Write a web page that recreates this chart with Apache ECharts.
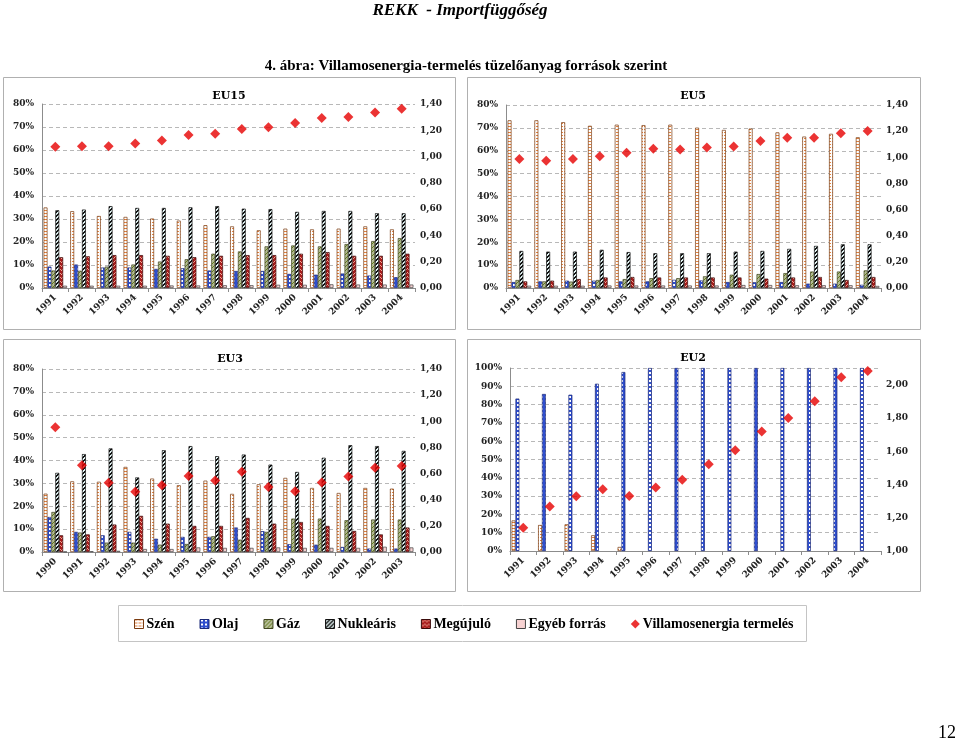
<!DOCTYPE html>
<html><head><meta charset="utf-8">
<script src="https://cdn.jsdelivr.net/npm/echarts@6/dist/echarts.min.js"></script>
<style>html,body{margin:0;padding:0;background:#fff}#c{width:960px;height:742px}</style>
</head><body><div id="c"></div>
<script>
// ---------- DATA ----------
const years15 = ['1991','1992','1993','1994','1995','1996','1997','1998','1999','2000','2001','2002','2003','2004'];
const years3  = ['1990','1991','1992','1993','1994','1995','1996','1997','1998','1999','2000','2001','2002','2003'];
const seriesNames = ['Szén','Olaj','Gáz','Nukleáris','Megújuló','Egyéb forrás','Villamosenergia termelés'];

// EU15 (%; production on right axis)
const eu15Szen   = [35.0,33.4,31.3,30.9,30.2,29.3,27.3,26.8,25.1,25.8,25.5,25.8,26.8,25.5];
const eu15Olaj   = [9.3,10.2,8.9,8.9,8.3,8.6,7.6,7.4,7.4,6.1,5.8,6.3,5.4,4.7];
const eu15Gaz    = [7.6,7.5,9.3,10.2,11.5,12.5,14.9,15.9,18.1,18.5,18.1,19.1,20.4,21.7];
const eu15Nuk    = [33.8,34.1,35.6,34.8,34.8,35.1,35.6,34.5,34.3,33.1,33.5,33.5,32.5,32.5];
const eu15Meg    = [13.4,13.8,14.3,14.3,14.0,13.4,14.0,14.3,14.3,14.9,15.6,14.0,14.0,14.9];
const eu15Egyeb  = [1.0,1.0,1.0,1.0,1.1,1.1,1.2,1.2,1.4,1.4,1.6,1.5,1.5,1.5];
const eu15Term   = [1.074,1.079,1.079,1.099,1.122,1.165,1.173,1.209,1.224,1.255,1.293,1.301,1.336,1.364];

// EU5
const eu5Szen  = [73.3,73.3,72.5,70.9,71.4,71.2,71.4,70.1,69.1,69.7,68.0,66.2,67.4,65.9];
const eu5Olaj  = [2.6,2.9,3.2,3.2,2.9,2.9,3.6,3.3,2.6,2.5,2.6,1.9,1.9,1.4];
const eu5Gaz   = [3.5,2.9,2.8,3.5,3.9,4.3,4.3,5.1,5.8,6.1,6.5,7.2,7.2,7.7];
const eu5Nuk   = [16.2,15.9,15.9,16.7,15.7,15.2,15.2,15.2,15.9,16.2,17.1,18.4,19.1,19.1];
const eu5Meg   = [2.9,3.2,3.9,4.6,4.8,4.6,4.6,4.6,4.6,4.1,4.6,4.8,3.5,4.8];
const eu5Egyeb = [1.0,1.0,1.0,1.1,1.1,1.1,1.1,1.1,1.3,1.3,1.2,1.2,1.2,0.9];
const eu5Term  = [0.987,0.974,0.987,1.007,1.035,1.065,1.060,1.075,1.083,1.124,1.149,1.149,1.184,1.202];

// EU3
const eu3Szen  = [25.5,30.9,30.7,37.2,32.1,29.2,31.2,25.4,29.6,32.4,28.0,25.8,28.0,27.7];
const eu3Olaj  = [15.3,8.8,7.3,8.8,5.8,6.6,6.6,10.7,9.1,3.4,3.2,2.2,1.5,1.5];
const eu3Gaz   = [17.5,8.5,4.1,4.1,3.2,3.5,6.9,5.4,8.8,14.6,14.6,13.9,14.2,14.2];
const eu3Nuk   = [34.6,42.8,45.3,32.6,44.5,46.3,41.9,42.6,38.2,35.0,41.2,46.7,46.3,44.2];
const eu3Meg   = [7.3,7.7,12.0,15.8,12.4,11.4,11.4,14.9,12.4,13.1,11.4,9.2,7.7,10.7];
const eu3Egyeb = [0.1,0.3,0.5,1.3,1.3,2.0,1.8,1.8,2.0,1.8,1.8,1.8,2.3,2.0];
const eu3Term  = [0.955,0.664,0.529,0.460,0.511,0.582,0.547,0.613,0.498,0.465,0.531,0.577,0.644,0.657];

// EU2
const eu2Szen  = [16.7,14.2,14.6,8.6,2.2,0,0,0,0,0,0,0,0,0];
const eu2Olaj  = [83.3,85.8,85.4,91.4,97.8,100,100,100,100,100,100,100,100,100];
const eu2Gaz   = [0,0,0,0,0,0,0,0,0,0,0,0,0,0];
const eu2Nuk   = [0,0,0,0,0,0,0,0,0,0,0,0,0,0];
const eu2Meg   = [0,0,0,0,0,0,0,0,0,0,0,0,0,0];
const eu2Egyeb = [0,0,0,0,0,0,0,0,0,0,0,0,0,0];
const eu2Term  = [1.140,1.267,1.329,1.371,1.331,1.381,1.429,1.521,1.605,1.719,1.800,1.900,2.044,2.082];

// ---------- STYLES ----------
function pat(w,h,draw){const c=document.createElement('canvas');c.width=w;c.height=h;const g=c.getContext('2d');draw(g);return {image:c,repeat:'repeat'};}
const fills = [
  pat(4,3,g=>{g.fillStyle='#fff';g.fillRect(0,0,4,3);g.fillStyle='#e3823f';g.fillRect(0,0,3,1);}),
  pat(4,4,g=>{g.fillStyle='#2f4fcf';g.fillRect(0,0,4,4);g.fillStyle='#fff';g.fillRect(1,0,2,2);}),
  pat(4,4,g=>{g.fillStyle='#b3bb94';g.fillRect(0,0,4,4);g.fillStyle='#647a1e';g.fillRect(0,3,1,1);g.fillRect(1,2,1,1);g.fillRect(2,1,1,1);g.fillRect(3,0,1,1);}),
  pat(4,4,g=>{g.fillStyle='#e2f3f3';g.fillRect(0,0,4,4);g.fillStyle='#111';g.fillRect(0,3,2,1);g.fillRect(1,2,2,1);g.fillRect(2,1,2,1);g.fillRect(3,0,1,1);g.fillRect(0,0,1,1);}),
  pat(4,4,g=>{g.fillStyle='#a81c1c';g.fillRect(0,0,4,4);g.fillStyle='#f2a898';g.fillRect(0,1,1,1);g.fillRect(1,2,1,1);g.fillRect(2,1,1,1);g.fillRect(3,0,1,1);}),
  '#f7d2d2'
];
const borders = ['#7a3b10','#1c2a78','#3f4420','#111111','#3a0a0a','#444444'];
const diamondColor = '#e60000';
const FONT = 'DejaVu Serif';
const lblStyle = {fontFamily:FONT,fontSize:9,fontWeight:'bold',color:'#222'};

const panels = [
  {cats:years15, bars:[eu15Szen,eu15Olaj,eu15Gaz,eu15Nuk,eu15Meg,eu15Egyeb], term:eu15Term, grid:{left:42,top:104,width:373,height:184}, lmax:80, rmin:0, rmax:1.4},
  {cats:years15, bars:[eu5Szen,eu5Olaj,eu5Gaz,eu5Nuk,eu5Meg,eu5Egyeb], term:eu5Term, grid:{left:506,top:105,width:375,height:183}, lmax:80, rmin:0, rmax:1.4},
  {cats:years3, bars:[eu3Szen,eu3Olaj,eu3Gaz,eu3Nuk,eu3Meg,eu3Egyeb], term:eu3Term, grid:{left:42,top:369,width:373,height:183}, lmax:80, rmin:0, rmax:1.4},
  {cats:years15, bars:[eu2Szen,eu2Olaj,eu2Gaz,eu2Nuk,eu2Meg,eu2Egyeb], term:eu2Term, grid:{left:510,top:368,width:371,height:183}, lmax:100, rmin:1, rmax:2.1}
];

const grid=[],xAxis=[],yAxis=[],series=[];
panels.forEach((p,i)=>{
  grid.push(p.grid);
  xAxis.push({type:'category',gridIndex:i,data:p.cats,boundaryGap:true,
    axisLine:{lineStyle:{color:'#8c8c8c'}},axisTick:{show:true,length:4,lineStyle:{color:'#8c8c8c'}},
    axisLabel:Object.assign({rotate:45,margin:8,interval:0},lblStyle)});
  yAxis.push({type:'value',gridIndex:i,min:0,max:p.lmax,interval:10,
    axisLine:{show:true,lineStyle:{color:'#8c8c8c'}},axisTick:{show:false},
    splitLine:{lineStyle:{color:'#b8b8b8',type:[4,3]}},
    axisLabel:Object.assign({formatter:'{value}%',margin:8},lblStyle)});
  yAxis.push({type:'value',gridIndex:i,position:'right',min:p.rmin,max:p.rmax,interval:0.2,
    axisLine:{show:false},axisTick:{show:false},splitLine:{show:false},
    axisLabel:Object.assign({margin:5,formatter:v=>{const k=(v-p.rmin)/0.2;return Math.abs(k-Math.round(k))>0.01?'':v.toFixed(2).replace('.',',');}},lblStyle)});
  p.bars.forEach((arr,j)=>{
    series.push({type:'bar',name:seriesNames[j],xAxisIndex:i,yAxisIndex:2*i,
      data:arr.map(v=>v===0?'-':v),barGap:'0%',barCategoryGap:'12%',
      itemStyle:{color:fills[j],borderColor:borders[j],borderWidth:0.7}});
  });
  series.push({type:'scatter',name:seriesNames[6],xAxisIndex:i,yAxisIndex:2*i+1,data:p.term,
    symbol:'diamond',symbolSize:[10,10],itemStyle:{color:diamondColor}});
});

function txt(x,y,t,font,align){return {type:'text',x:x,y:y,silent:true,style:{text:t,font:font,fill:'#000',align:align||'center',verticalAlign:'middle',textAlign:align||'center',textVerticalAlign:'middle'}};}
function box(x,y,w,h,c){return {type:'rect',silent:true,shape:{x:x,y:y,width:w,height:h},style:{fill:'none',stroke:c||'#b0b0b0',lineWidth:1}};}

const graphic = [
  box(3.5,77.5,452,252), box(467.5,77.5,453,252), box(3.5,339.5,452,252), box(467.5,339.5,453,252),
  box(118.5,605.5,688,36,'#c4c4c4'),
  txt(460,11,'REKK  - Importfüggőség','bold italic 17px "Liberation Serif"'),
  txt(466,66,'4. ábra: Villamosenergia-termelés tüzelőanyag források szerint','bold 15px "Liberation Serif"'),
  txt(947,733,'12','18px "Liberation Serif"'),
  txt(229,96,'EU15','bold 11px "DejaVu Serif"'),
  txt(693,96,'EU5','bold 11px "DejaVu Serif"'),
  txt(230,359,'EU3','bold 11px "DejaVu Serif"'),
  txt(693,358,'EU2','bold 11px "DejaVu Serif"')
];

const legendData = seriesNames.map((n,j)=> j<6
  ? {name:n,icon:'rect',itemStyle:{color:fills[j],borderColor:borders[j],borderWidth:1}}
  : {name:n,icon:'diamond',itemStyle:{color:diamondColor}});

const chart = echarts.init(document.getElementById('c'),null,{renderer:'canvas'});
chart.setOption({
  animation:false,
  grid:grid,xAxis:xAxis,yAxis:yAxis,series:series,graphic:graphic,
  legend:{data:legendData,left:129,top:612,itemWidth:9,itemHeight:9,itemGap:25,selectedMode:false,
    textStyle:{fontFamily:'Liberation Serif',fontSize:14,fontWeight:'bold',color:'#000',padding:[0,0,0,-2]}}
});
</script></body></html>
